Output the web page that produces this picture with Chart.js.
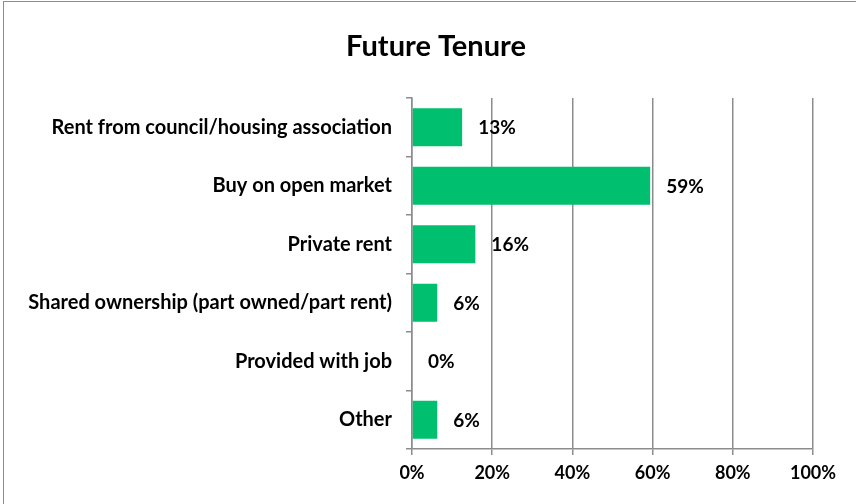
<!DOCTYPE html>
<html>
<head>
<meta charset="utf-8">
<script src="https://cdn.jsdelivr.net/npm/chart.js@4"></script>
<style>
  html, body { margin: 0; padding: 0; background: #fff; overflow: hidden; }
  #frame { position: absolute; left: 3px; top: 1px; width: 900px; height: 600px; border: 1px solid #8c8c8c; }
  #wrap { position: absolute; left: 0; top: 0; width: 856px; height: 504px; }
</style>
</head>
<body>
<div id="frame"></div>
<div id="wrap"><canvas id="tenureChart" width="856" height="504"></canvas></div>
<script>
// data
const categories = [
  "Rent from council/housing association",
  "Buy on open market",
  "Private rent",
  "Shared ownership (part owned/part rent)",
  "Provided with job",
  "Other",
];
const shares = [12.5, 59.4, 15.8, 6.3, 0, 6.3];
const xTicks = [0, 20, 40, 60, 80, 100];
const chartTitle = "Future Tenure";

const FONT = "Lato, 'Open Sans', sans-serif";

// title is drawn by hand so it can sit off-centre like the original
const titleText = {
  id: "titleText",
  afterDraw(chart) {
    const ctx = chart.ctx;
    ctx.save();
    ctx.font = "bold 29px " + FONT;
    ctx.fillStyle = "#000";
    ctx.textAlign = "center";
    ctx.textBaseline = "middle";
    ctx.fillText(chartTitle, 436, 47);
    ctx.restore();
  },
};

// draws the % value to the right of each bar
const barValueLabels = {
  id: "barValueLabels",
  afterDatasetsDraw(chart) {
    const ctx = chart.ctx;
    const meta = chart.getDatasetMeta(0);
    ctx.save();
    ctx.font = "bold 19px " + FONT;
    ctx.fillStyle = "#000";
    ctx.textAlign = "left";
    ctx.textBaseline = "middle";
    meta.data.forEach((bar, i) => {
      ctx.fillText(Math.round(shares[i]) + "%", bar.x + 16, bar.y + 1);
    });
    ctx.restore();
  },
};

new Chart(document.getElementById("tenureChart").getContext("2d"), {
  type: "bar",
  data: {
    labels: categories,
    datasets: [
      {
        data: shares,
        backgroundColor: "#00BF6F",
        borderWidth: 0,
        categoryPercentage: 1,
        barPercentage: 0.65,
      },
    ],
  },
  options: {
    indexAxis: "y",
    responsive: false,
    animation: false,
    layout: { padding: { left: 0, right: 43, top: 98, bottom: 0 } },
    plugins: {
      legend: { display: false },
      tooltip: { enabled: false },
      title: { display: false },
    },
    scales: {
      x: {
        min: 0,
        max: 100,
        afterBuildTicks(scale) {
          scale.ticks = xTicks.map((v) => ({ value: v }));
        },
        afterFit(scale) {
          scale.height = 504 - 449;
        },
        grid: { color: "#8c8c8c", lineWidth: 1.5, tickLength: 6 },
        border: { color: "#8c8c8c", width: 1.5 },
        ticks: {
          color: "#000",
          padding: 7,
          font: { family: FONT, size: 18, weight: "bold" },
          callback: (v) => v + "%",
        },
      },
      y: {
        afterFit(scale) {
          scale.width = 412;
        },
        grid: { drawOnChartArea: false, color: "#8c8c8c", lineWidth: 1.5, tickLength: 6, offset: true },
        border: { color: "#8c8c8c", width: 1.5 },
        ticks: {
          color: "#000",
          padding: 14,
          font: { family: FONT, size: 20, weight: "bold" },
        },
      },
    },
  },
  plugins: [barValueLabels, titleText],
});
</script>
</body>
</html>
